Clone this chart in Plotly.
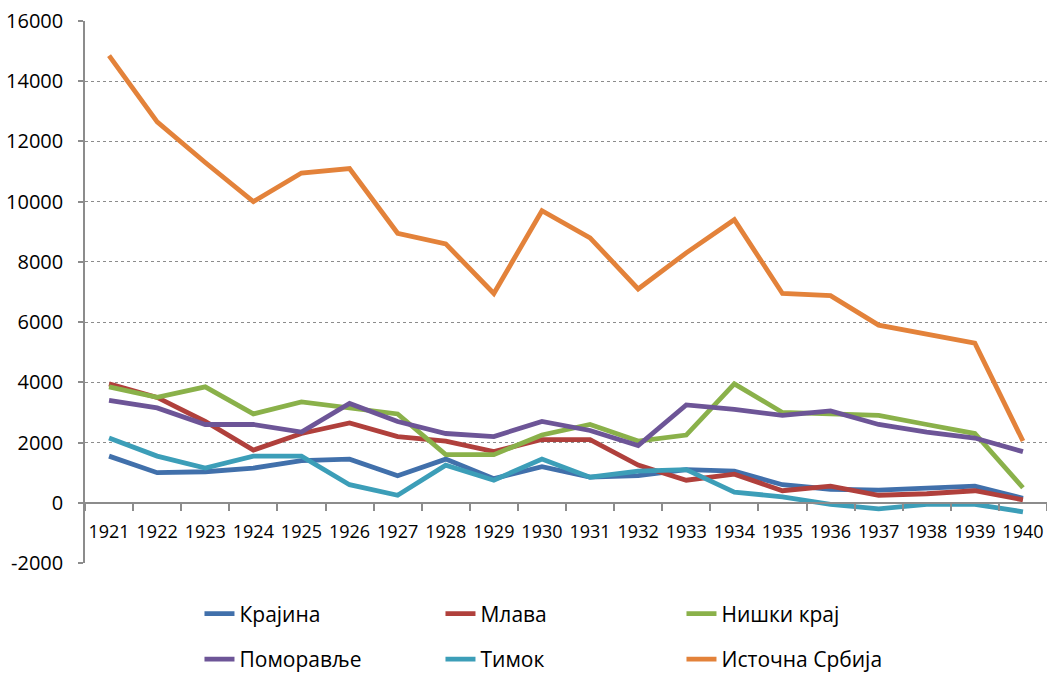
import plotly.graph_objects as go

years = [str(y) for y in range(1921, 1941)]

krajina = [1550, 1000, 1030, 1150, 1400, 1450, 900, 1450, 800, 1200,
           850, 900, 1100, 1050, 600, 450, 420, 480, 550, 150]
mlava = [3950, 3500, 2700, 1750, 2300, 2650, 2200, 2050, 1700, 2100,
         2100, 1250, 750, 950, 400, 550, 250, 300, 400, 100]
niski_kraj = [3850, 3500, 3850, 2950, 3350, 3150, 2950, 1600, 1600, 2250,
              2600, 2050, 2250, 3950, 3000, 2950, 2900, 2600, 2300, 500]
pomoravlje = [3400, 3150, 2600, 2600, 2350, 3300, 2700, 2300, 2200, 2700,
              2400, 1900, 3250, 3100, 2900, 3050, 2600, 2350, 2150, 1700]
timok = [2150, 1550, 1150, 1550, 1550, 600, 250, 1250, 750, 1450,
         850, 1050, 1100, 350, 200, -50, -200, -50, -50, -300]
istocna_srbija = [14850, 12650, 11300, 10000, 10950, 11100, 8950, 8600, 6950, 9700,
                  8800, 7100, 8300, 9400, 6950, 6880, 5900, 5600, 5300, 2050]

# (name, values, colour, legend row)
series = [
    ("Крајина", krajina, "#4170AB", "legend"),
    ("Млава", mlava, "#B0403C", "legend"),
    ("Нишки крај", niski_kraj, "#8AB14A", "legend"),
    ("Поморавље", pomoravlje, "#6D5597", "legend2"),
    ("Тимок", timok, "#3C9EB8", "legend2"),
    ("Источна Србија", istocna_srbija, "#E3823A", "legend2"),
]

y_ticks = list(range(-2000, 16001, 2000))
y_tick_text = [str(v) for v in y_ticks]

fig = go.Figure()
for name, values, color, leg in series:
    fig.add_trace(go.Scatter(
        x=years, y=values, name=name, mode="lines",
        line=dict(color=color, width=4.8),
        legend=leg,
    ))

FONT = "Open Sans"
AXIS_GREY = "#8C8C8C"

legend_common = dict(
    orientation="h",
    xanchor="left", yanchor="middle",
    entrywidth=196, entrywidthmode="pixels",
    font=dict(family=FONT, size=21, color="black"),
    bgcolor="rgba(0,0,0,0)",
)

fig.update_layout(
    width=1047, height=680,
    margin=dict(l=85, r=0, t=21, b=116),
    paper_bgcolor="white", plot_bgcolor="white",
    font=dict(family=FONT, size=18, color="black"),
    xaxis=dict(
        type="category",
        tickson="boundaries",
        tickangle=0,
        ticks="outside", ticklen=7, tickcolor=AXIS_GREY, tickwidth=1.5,
        showline=True, linecolor=AXIS_GREY, linewidth=1.5,
        showgrid=False,
        anchor="free", position=2000 / 18000,
        tickfont=dict(family=FONT, size=18),
        ticklabelstandoff=13,
        range=[-0.5, 19.5],
    ),
    yaxis=dict(
        range=[-2000, 16000],
        tickmode="array", tickvals=y_ticks, ticktext=y_tick_text,
        ticks="outside", ticklen=5, tickcolor=AXIS_GREY, tickwidth=1.5,
        showline=True, linecolor=AXIS_GREY, linewidth=1.5,
        showgrid=True, gridcolor="#8C8C8C", gridwidth=1, griddash="dot",
        zeroline=False,
        tickfont=dict(family=FONT, size=20),
        ticklabelstandoff=11,
    ),
    legend=dict(x=0.119, y=-0.092, **legend_common),
    legend2=dict(x=0.119, y=-0.178, **legend_common),
    showlegend=True,
)

fig.write_html("out.html")
